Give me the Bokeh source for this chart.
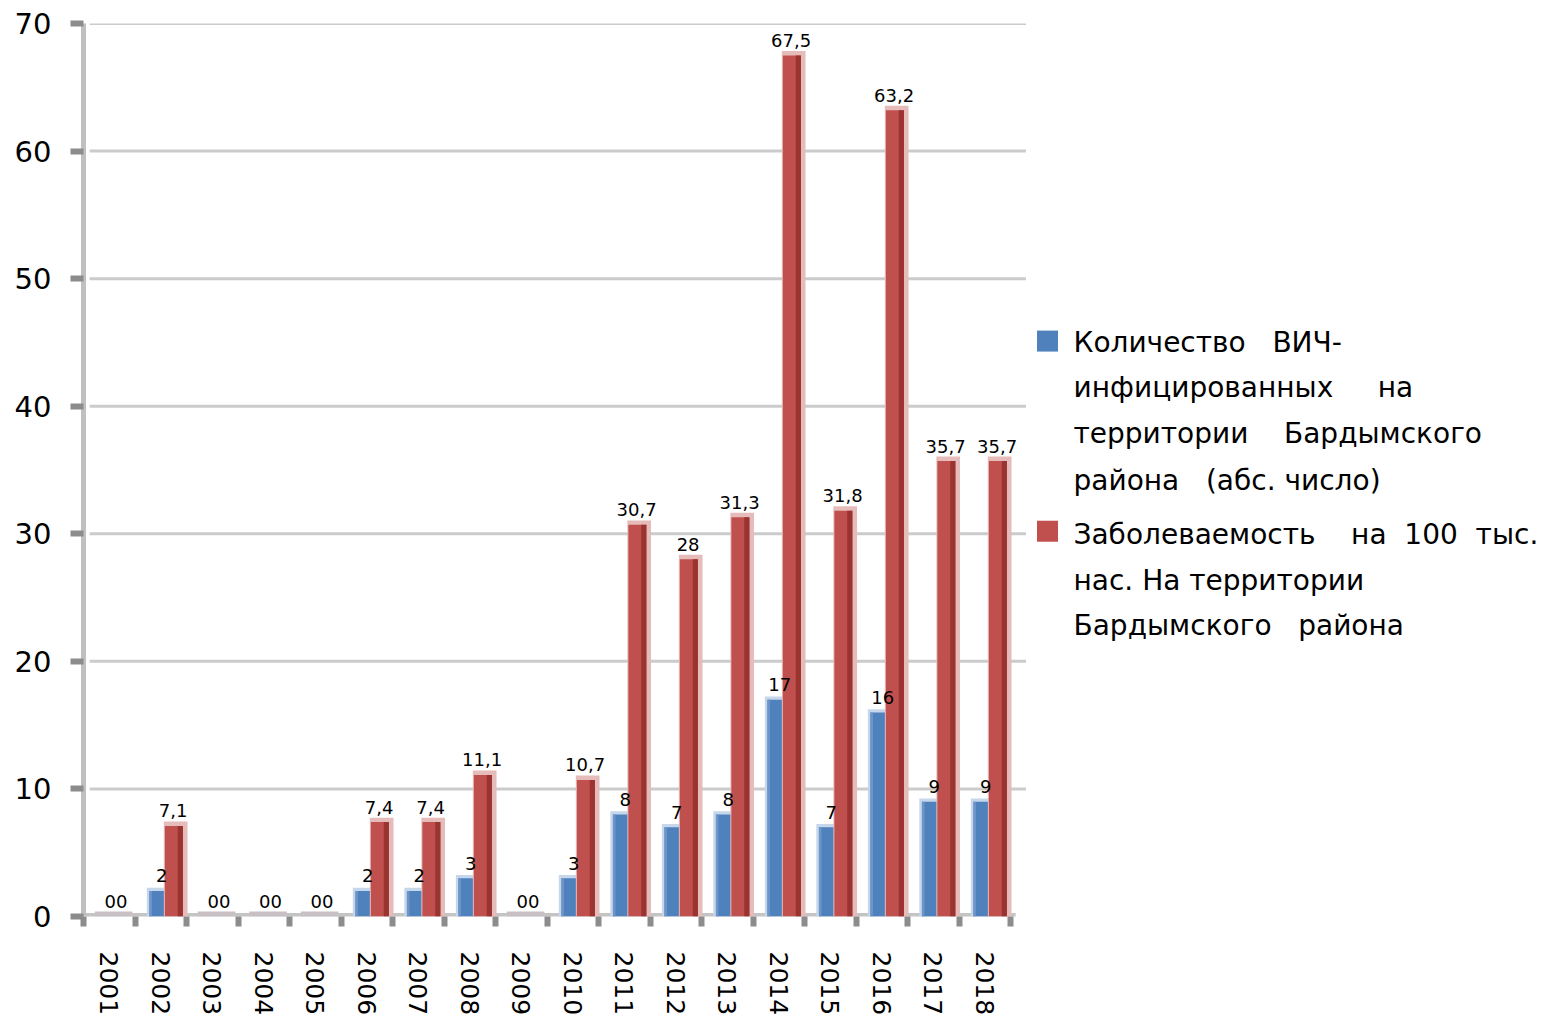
from bokeh.plotting import figure
from bokeh.models import Range1d, FixedTicker
from bokeh.core.properties import value
from bokeh.embed import file_html
from bokeh.resources import INLINE

years = ["2001", "2002", "2003", "2004", "2005", "2006", "2007", "2008", "2009",
         "2010", "2011", "2012", "2013", "2014", "2015", "2016", "2017", "2018"]
hiv_count = [0, 2, 0, 0, 0, 2, 2, 3, 0, 3, 8, 7, 8, 17, 7, 16, 9, 9]
incidence = [0, 7.1, 0, 0, 0, 7.4, 7.4, 11.1, 0, 10.7, 30.7, 28, 31.3, 67.5, 31.8, 63.2, 35.7, 35.7]
y_ticks = [0, 10, 20, 30, 40, 50, 60, 70]
NB = "\u00a0"
legend_blue = ["Количество" + NB * 3 + "ВИЧ-",
               "инфицированных" + NB * 5 + "на",
               "территории" + NB * 4 + "Бардымского",
               "района" + NB * 3 + "(абс." + NB + "число)"]
legend_red = ["Заболеваемость" + NB * 4 + "на" + NB * 2 + "100" + NB * 2 + "тыс.",
              "нас." + NB + "На" + NB + "территории",
              "Бардымского" + NB * 3 + "района"]

BLUE = "#4F81BD"
RED = "#C0504D"


def fmt(v):
    if float(v).is_integer():
        return str(int(v))
    return str(v).replace(".", ",")


n = len(years)
idx = list(range(n))

W, H = 1540, 1018
LEFT, TOP = 83, 23
BOTTOM = H - 920
PX = 51.5  # pixels per category slot
x_end = (W - LEFT) / PX

p = figure(width=W, height=H, output_backend="svg", toolbar_location=None,
           x_range=Range1d(0, x_end), y_range=Range1d(0, 70),
           min_border_left=LEFT, min_border_right=0, min_border_top=TOP, min_border_bottom=BOTTOM)
p.outline_line_color = None
p.background_fill_color = "white"
p.xgrid.visible = False
p.ygrid.visible = False

# gridlines (drawn only over the bar area)
grid_y = [t for t in y_ticks if t > 0]
p.segment(x0=[0.12] * len(grid_y), y0=grid_y, x1=[18.3] * len(grid_y), y1=grid_y,
          line_color="#cbcbcb", line_width=3)
# floor / x axis line
p.segment(x0=[-0.1], y0=[0], x1=[18.1], y1=[0], line_color="#c4c4c4", line_width=7)

# zero-slot floor tiles
zero_idx = [i for i in idx if hiv_count[i] == 0 and incidence[i] == 0]
p.quad(left=[i + 0.22 for i in zero_idx], right=[i + 0.95 for i in zero_idx],
       bottom=[0] * len(zero_idx), top=[0.4] * len(zero_idx),
       fill_color="#c9c0c6", line_color=None)

# blue bars: light halo, body, light left edge
p.quad(left=[i + 0.23 for i in idx], right=[i + 0.58 for i in idx], bottom=0,
       top=[v + 0.25 if v > 0 else 0 for v in hiv_count],
       fill_color="#C6D6EB", line_color=None)
p.quad(left=[i + 0.28 for i in idx], right=[i + 0.58 for i in idx], bottom=0, top=hiv_count,
       fill_color=BLUE, line_color=None)
p.quad(left=[i + 0.28 for i in idx], right=[i + 0.33 for i in idx], bottom=0, top=hiv_count,
       fill_color="#6E95C8", line_color=None)

# red bars: pink halo, body, dark right edge
p.quad(left=[i + 0.56 for i in idx], right=[i + 1.02 for i in idx], bottom=0,
       top=[v + 0.35 if v > 0 else 0 for v in incidence],
       fill_color="#E6BCBB", line_color=None)
p.quad(left=[i + 0.58 for i in idx], right=[i + 0.93 for i in idx], bottom=0, top=incidence,
       fill_color=RED, line_color=None)
p.quad(left=[i + 0.83 for i in idx], right=[i + 0.93 for i in idx], bottom=0, top=incidence,
       fill_color="#9A3431", line_color=None)

# value labels
p.text(x=[i + 0.52 for i in idx], y=hiv_count, text=[fmt(v) for v in hiv_count],
       text_font=value("DejaVu Sans"), text_font_size="18px", text_color="black",
       text_align="center", text_baseline="alphabetic", y_offset=-15)
p.text(x=[i + 0.74 for i in idx], y=incidence, text=[fmt(v) for v in incidence],
       text_font=value("DejaVu Sans"), text_font_size="18px", text_color="black",
       text_align="center", text_baseline="alphabetic", y_offset=-15)

# y axis
ya = p.yaxis[0]
ya.ticker = FixedTicker(ticks=y_ticks)
ya.axis_line_color = "#c0c0c0"
ya.axis_line_width = 5
ya.major_tick_out = 13
ya.major_tick_in = 0
ya.major_tick_line_color = "#8c8c8c"
ya.major_tick_line_width = 6
ya.minor_tick_line_color = None
ya.major_label_text_font = "DejaVu Sans"
ya.major_label_text_font_size = "29px"
ya.major_label_text_color = "black"
ya.major_label_standoff = 19

# x axis: labels at slot centers, tick marks at slot boundaries
xa = p.xaxis[0]
centers = [i + 0.5 for i in idx]
bounds = list(range(n + 1))
xa.ticker = FixedTicker(ticks=centers, minor_ticks=bounds)
xa.major_label_overrides = {c: y for c, y in zip(centers, years)}
xa.axis_line_color = None
xa.major_tick_line_color = None
xa.major_tick_out = 0
xa.major_tick_in = 0
xa.minor_tick_out = 10
xa.minor_tick_in = 0
xa.minor_tick_line_color = "#8c8c8c"
xa.minor_tick_line_width = 6
xa.major_label_orientation = "vertical"
xa.major_label_text_font = "DejaVu Sans"
xa.major_label_text_font_size = "25px"
xa.major_label_text_color = "black"
xa.major_label_standoff = 25


# legend (placed in screen pixels, converted to data coordinates)
def dx(sx):
    return (sx - LEFT) / PX


def dy(sy):
    return (920 - sy) * 70 / (920 - TOP)


p.rect(x=[dx(1047)], y=[dy(342)], width=21, height=21, width_units="screen",
       height_units="screen", fill_color=BLUE, line_color=None)
p.rect(x=[dx(1047)], y=[dy(533)], width=21, height=21, width_units="screen",
       height_units="screen", fill_color=RED, line_color=None)
blue_rows = [343, 389, 435, 482]
red_rows = [536, 582, 628]
p.text(x=[dx(1073)] * len(legend_blue), y=[dy(r) for r in blue_rows], text=legend_blue,
       text_font=value("DejaVu Sans"), text_font_size="28px", text_color="black",
       text_align="left", text_baseline="middle")
p.text(x=[dx(1073)] * len(legend_red), y=[dy(r) for r in red_rows], text=legend_red,
       text_font=value("DejaVu Sans"), text_font_size="28px", text_color="black",
       text_align="left", text_baseline="middle")

open("out.html", "w").write(file_html(p, INLINE))
